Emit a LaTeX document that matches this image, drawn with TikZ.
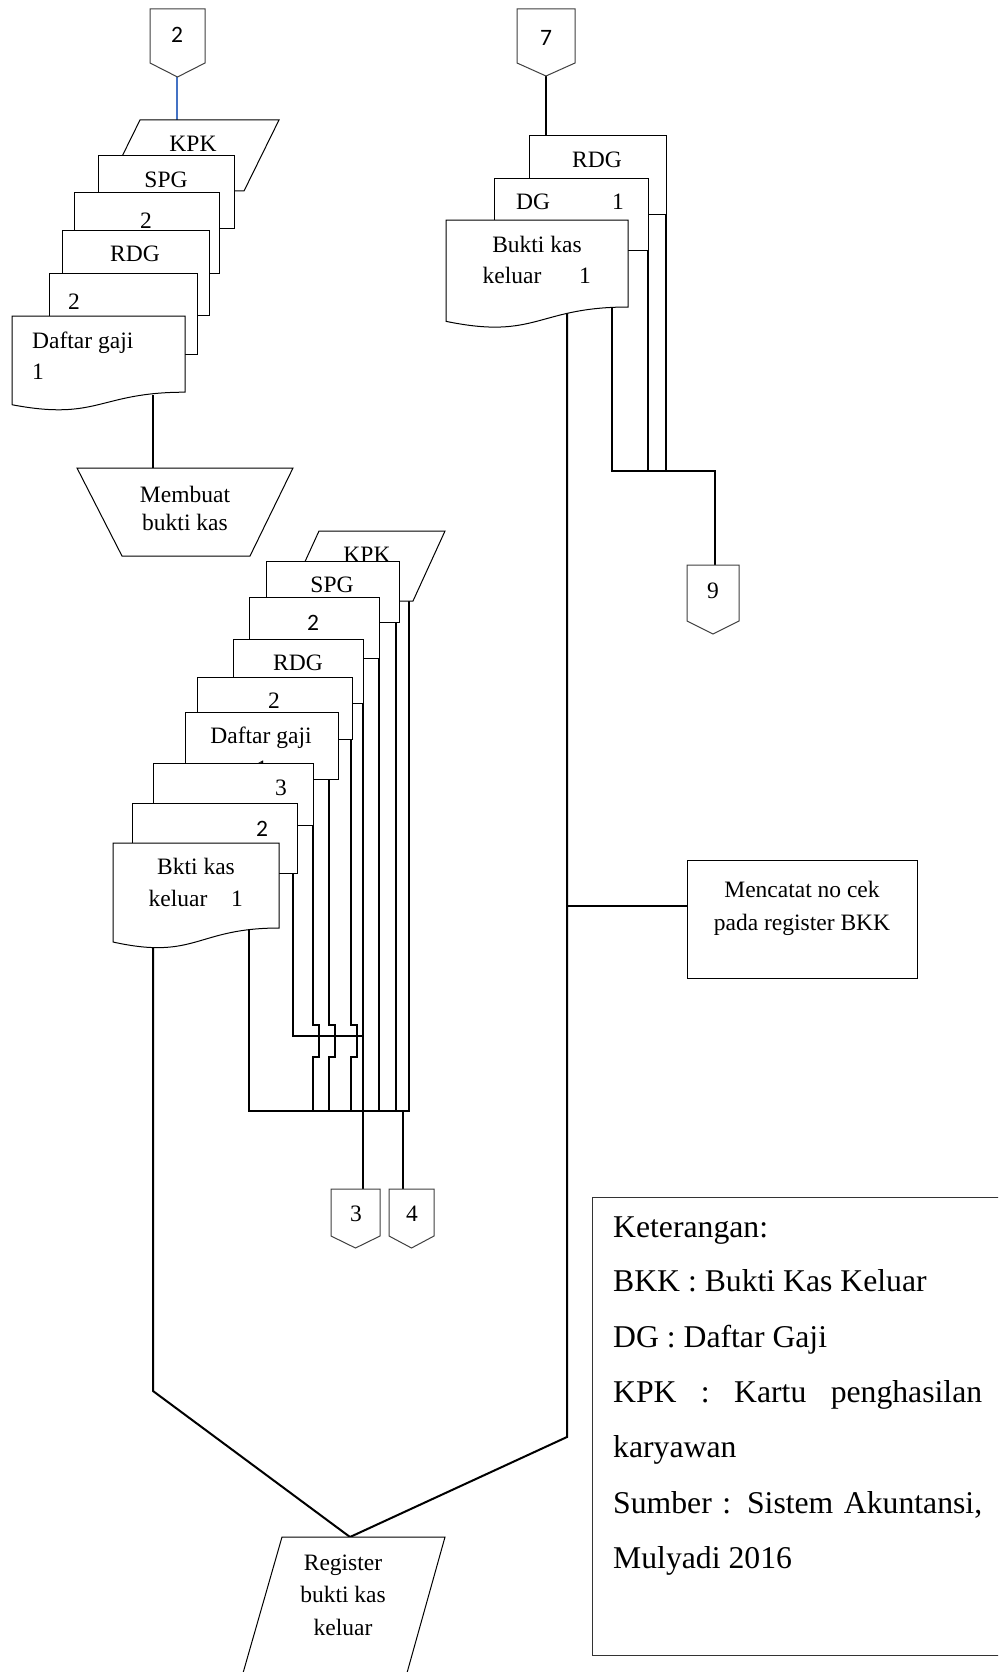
\documentclass[tikz,border=0pt]{standalone}
\usepackage{fontspec}
\setmainfont{Liberation Serif}
\newfontfamily\calib{Carlito}
\definecolor{linkblue}{RGB}{68,114,196}

% document symbol with a wavy bottom: x, y (top left), width, height
\newcommand\wavedoc[4]{%
  \path[docline] (#1,#2) -- ({#1+#3},#2) -- ({#1+#3},{#2+0.802*#4})
    .. controls ({#1+0.5*#3},{#2+0.802*#4}) and ({#1+0.5*#3},{#2+1.1075*#4})
    .. (#1,{#2+0.934*#4}) -- cycle;}
% off-page connector: left, right, top, side bottom, tip
\newcommand\offpage[5]{%
  \path[connline] (#1,#3) -- (#2,#3) -- (#2,#4) -- ({(#1+#2)/2},#5) -- (#1,#4) -- cycle;}

\begin{document}
\begin{tikzpicture}[x=1pt,y=-1pt,
  docline/.style={draw=black,line width=1pt,fill=white,line join=miter},
  connline/.style={draw=black!75,line width=1pt,fill=white},
  flow/.style={draw=black,line width=2pt},
  linkline/.style={draw=linkblue,line width=1.6pt},
  txt/.style={font=\fontsize{23.5}{28}\selectfont,inner sep=0pt,anchor=base},
  txtw/.style={txt,anchor=base west},
  stxt/.style={font=\calib\fontsize{23.5}{28}\selectfont,inner sep=0pt,anchor=base},
  legend/.style={font=\fontsize{31.7}{38}\selectfont,inner sep=0pt,anchor=base west}]

\clip (0,0) rectangle (998,1672);
\fill[white] (0,0) rectangle (998,1672);

% ---------- connection points ----------
\coordinate (c2tip) at (177,77);
\coordinate (kpkAtop) at (177,120);
\coordinate (dgAout) at (153,395);
\coordinate (mbTop) at (153,468);
\coordinate (c7tip) at (546,76);
\coordinate (rdgBtop) at (546,136);
\coordinate (c9top) at (715,565);
\coordinate (c3top) at (363,1189);
\coordinate (c4top) at (403,1189);
\coordinate (regTop) at (350,1537);
\coordinate (boxL) at (687,906);

% ---------- flow lines (behind the symbols) ----------
\draw[linkline] (c2tip) -- (kpkAtop);
\draw[flow] (dgAout) -- (mbTop);
\draw[flow] (c7tip) -- (rdgBtop);

% right stack to connector 9
\draw[flow] (666,208) -- (666,471);
\draw[flow] (648,244) -- (648,471);
\draw[flow] (612,300) |- (715,471) -- (c9top);
% right stack to register and to the check note
\draw[flow] (567,300) -- (567,1437) -- (regTop);
\draw[flow] (567,906) -- (boxL);

% middle stack
\draw[flow] (249,900) -- (249,1111) -- (409,1111) -- (409,599);
\draw[flow] (293,860) -- (293,1036) -- (363,1036);
\draw[flow] (313,820) -- (313,1025) -- (319,1025) -- (319,1057) -- (313,1057) -- (313,1111);
\draw[flow] (329,775) -- (329,1025) -- (335,1025) -- (335,1057) -- (329,1057) -- (329,1111);
\draw[flow] (351,735) -- (351,1025) -- (357,1025) -- (357,1057) -- (351,1057) -- (351,1111);
\draw[flow] (363,700) -- (c3top);
\draw[flow] (379,655) -- (379,1111);
\draw[flow] (396,615) -- (396,1111);
\draw[flow] (403,1111) -- (c4top);
\draw[flow] (153,930) -- (153,1391) -- (regTop);

% ---------- top left ----------
\offpage{150}{205}{9}{63}{77}
\node[stxt] (n2a) at (177,43) {2};

\path[docline] (140,120) -- (279,120) -- (244,191) -- (105,191) -- cycle;
\node[txt] (kpkA) at (193,152) {KPK};
\path[docline] (98,156) rectangle (234,228);
\node[txt] (spgA) at (166,188) {SPG};
\path[docline] (74,193) rectangle (219,273);
\node[txt] (d2A) at (146,228) {2};
\path[docline] (62,230) rectangle (209,315);
\node[txt] (rdgA) at (135,261) {RDG};
\path[docline] (49,273) rectangle (197,354);
\node[txt] (d2B) at (74,309) {2};
\wavedoc{12}{316}{173}{95}
\node[txtw] (dgA1) at (32,348) {Daftar gaji};
\node[txtw] (dgA2) at (32,379) {1};

\path[docline] (77,468) -- (293,468) -- (250,556) -- (122,556) -- cycle;
\node[txt] (mb1) at (185,502) {Membuat};
\node[txt] (mb2) at (185,530) {bukti kas};

% ---------- top right ----------
\offpage{517}{575}{9}{63}{76}
\node[stxt] (n7) at (546,46) {7};
\path[docline] (529,136) rectangle (666,214);
\node[txt] (rdgB) at (597,168) {RDG};
\path[docline] (494,179) rectangle (648,250);
\node[txt] (dgB) at (533,210) {DG};
\node[txt] (dgB1) at (618,210) {1};
\wavedoc{446}{220}{182}{108.5}
\node[txt] (bkB1) at (537,252) {Bukti kas};
\node[txt] (bkB2) at (512,283) {keluar};
\node[txt] (bkB3) at (585,283) {1};

\offpage{687}{739}{565}{621}{634}
\node[txt] (n9) at (713,598) {9};

\path[docline] (687,860) rectangle (917,978);
\node[txt] (mc1) at (802,897) {Mencatat no cek};
\node[txt] (mc2) at (802,930) {pada register BKK};

% ---------- middle stack ----------
\path[docline] (319,531) -- (445,531) -- (413,601) -- (287,601) -- cycle;
\node[txt] (kpkC) at (367,562) {KPK};
\path[docline] (266,561) rectangle (399,622);
\node[txt] (spgC) at (332,592) {SPG};
\path[docline] (249,597) rectangle (379,658);
\node[stxt] (d2C) at (313,630) {2};
\path[docline] (233,639) rectangle (363,703);
\node[txt] (rdgC) at (298,670) {RDG};
\path[docline] (197,677) rectangle (352,739);
\node[txt] (d2D) at (274,708) {2};
\path[docline] (185,712) rectangle (338,779);
\node[txt] (dgC1) at (261,743) {Daftar gaji};
\node[txt] (dgC2) at (262,776) {1};
\path[docline] (153,763) rectangle (313,825);
\node[txt] (d3C) at (281,795) {3};
\path[docline] (132,803) rectangle (297,873);
\node[stxt] (d2E) at (262,836) {2};
\wavedoc{113}{843}{166}{106}
\node[txt] (bkC1) at (196,874) {Bkti kas};
\node[txt] (bkC2) at (178,906) {keluar};
\node[txt] (bkC3) at (237,906) {1};

\offpage{331}{380}{1189}{1236}{1248}
\node[txt] (n3) at (356,1221) {3};
\offpage{389}{434}{1189}{1236}{1248}
\node[txt] (n4) at (412,1221) {4};

% ---------- register ----------
\path[docline] (282,1537) -- (445,1537) -- (405,1680) -- (241,1680) -- cycle;
\node[txt] (rg1) at (343,1570) {Register};
\node[txt] (rg2) at (343,1602) {bukti kas};
\node[txt] (rg3) at (343,1635) {keluar};

% ---------- legend ----------
\path[draw=black!80,line width=1pt] (592,1197) rectangle (1010,1655);
\node[legend] (lg1) at (613,1237) {Keterangan:};
\node[legend] (lg2) at (613,1291) {BKK : Bukti Kas Keluar};
\node[legend] (lg3) at (613,1347) {DG : Daftar Gaji};
\node[legend] (lg4) at (613,1402) {\makebox[369pt][s]{KPK : Kartu penghasilan}};
\node[legend] (lg5) at (613,1457) {karyawan};
\node[legend] (lg6) at (613,1513) {\makebox[369pt][s]{Sumber : Sistem Akuntansi,}};
\node[legend] (lg7) at (613,1568) {Mulyadi 2016};
\end{tikzpicture}
\end{document}
